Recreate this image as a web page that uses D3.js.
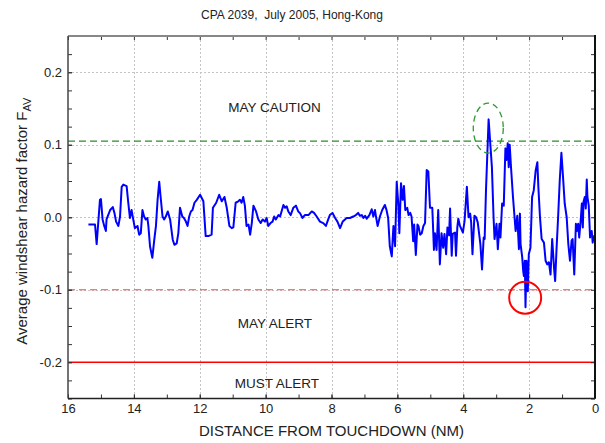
<!DOCTYPE html>
<html>
<head>
<meta charset="utf-8">
<script src="https://cdn.jsdelivr.net/npm/d3@7/dist/d3.min.js"></script>
<style>
  html, body { margin: 0; padding: 0; background: #ffffff; }
  svg { display: block; font-family: "Liberation Sans", Arial, sans-serif; }
</style>
</head>
<body>
<svg id="chart" width="605" height="443"></svg>
<script>
// Distance from touchdown (NM) and averaged windshear hazard factor F_AV
const distanceNM = [
  15.38, 15.18, 15.13, 15.03, 15.0, 14.95, 14.9, 14.85, 14.83, 14.78, 14.72, 14.64, 14.59, 14.54, 14.47, 14.42,
  14.37, 14.32, 14.22, 14.17, 14.12, 14.07, 14.02, 13.97, 13.89, 13.84, 13.79, 13.74, 13.69, 13.64, 13.59, 13.56,
  13.51, 13.44, 13.38, 13.33, 13.28, 13.23, 13.19, 13.13, 13.08, 13.03, 12.97, 12.9, 12.82, 12.77, 12.7, 12.65,
  12.6, 12.53, 12.48, 12.42, 12.37, 12.32, 12.27, 12.22, 12.16, 12.09, 11.99, 11.89, 11.82, 11.74, 11.64, 11.6,
  11.5, 11.41, 11.33, 11.25, 11.18, 11.1, 11.03, 10.98, 10.91, 10.83, 10.78, 10.73, 10.68, 10.63, 10.58, 10.52,
  10.47, 10.42, 10.37, 10.29, 10.22, 10.15, 10.09, 10.02, 9.97, 9.92, 9.85, 9.79, 9.74, 9.69, 9.61, 9.56,
  9.46, 9.41, 9.36, 9.31, 9.24, 9.16, 9.08, 9.01, 8.96, 8.88, 8.81, 8.70, 8.60, 8.53, 8.45, 8.35,
  8.25, 8.17, 8.10, 8.05, 7.97, 7.89, 7.82, 7.74, 7.66, 7.59, 7.54, 7.44, 7.34, 7.26, 7.19, 7.14,
  7.08, 7.03, 6.98, 6.93, 6.85, 6.78, 6.73, 6.68, 6.65, 6.60, 6.53, 6.46, 6.38, 6.33, 6.28, 6.23,
  6.17, 6.12, 6.07, 6.02, 5.97, 5.94, 5.89, 5.84, 5.80, 5.76, 5.70, 5.66, 5.61, 5.57, 5.52, 5.49,
  5.44, 5.39, 5.36, 5.31, 5.26, 5.21, 5.16, 5.11, 5.06, 5.01, 4.94, 4.89, 4.86, 4.81, 4.76, 4.71,
  4.66, 4.61, 4.57, 4.52, 4.48, 4.43, 4.40, 4.35, 4.32, 4.25, 4.22, 4.18, 4.15, 4.10, 4.01, 3.96,
  3.89, 3.84, 3.79, 3.76, 3.72, 3.66, 3.61, 3.56, 3.48, 3.43, 3.38, 3.35, 3.31, 3.23, 3.18, 3.13,
  3.08, 3.05, 2.99, 2.95, 2.90, 2.87, 2.82, 2.77, 2.72, 2.69, 2.65, 2.62, 2.59, 2.55, 2.49, 2.41,
  2.36, 2.31, 2.28, 2.26, 2.21, 2.18, 2.16, 2.13, 2.11, 2.08, 2.04, 2.01, 1.96, 1.91, 1.86, 1.80,
  1.75, 1.72, 1.67, 1.62, 1.55, 1.50, 1.45, 1.40, 1.35, 1.30, 1.24, 1.21, 1.17, 1.12, 1.07, 1.02,
  0.97, 0.92, 0.86, 0.81, 0.76, 0.71, 0.68, 0.63, 0.58, 0.55, 0.51, 0.48, 0.43, 0.40, 0.37, 0.35,
  0.31, 0.28, 0.25, 0.23, 0.19, 0.15, 0.10, 0.07, 0.04
];
const hazardFactor = [
  -0.010, -0.010, -0.037, 0.024, 0.025, -0.003, -0.012, -0.019, -0.003, 0.003, 0.010, 0.014, 0.006, -0.006, -0.012, 0.001,
  0.042, 0.045, 0.043, 0.020, -0.001, 0.010, -0.003, -0.015, -0.012, -0.024, -0.022, 0.010, 0.001, -0.003, -0.001, -0.012,
  -0.040, -0.056, -0.031, -0.012, 0.024, 0.049, 0.029, 0.001, -0.003, 0.001, 0.008, -0.003, -0.031, -0.038, -0.036, -0.022,
  0.013, 0.001, -0.001, -0.006, -0.012, 0.001, 0.008, 0.010, 0.020, 0.024, 0.031, 0.022, -0.026, -0.026, -0.024, 0.013,
  0.020, 0.031, 0.022, 0.028, 0.013, -0.012, -0.015, -0.014, 0.020, 0.022, 0.024, 0.020, 0.028, 0.016, -0.012, -0.010,
  -0.024, -0.008, 0.016, 0.008, -0.003, -0.008, -0.003, -0.006, -0.001, -0.012, -0.008, -0.006, 0.001, -0.003, 0.003, 0.001,
  0.017, 0.013, 0.015, 0.008, 0.003, 0.013, 0.016, 0.008, 0.006, -0.001, 0.003, 0.003, 0.008, 0.006, 0.001, -0.006,
  -0.008, -0.012, -0.003, 0.003, 0.006, -0.001, -0.006, -0.015, -0.006, -0.003, -0.001, -0.001, 0.001, 0.003, 0.006, 0.002,
  0.003, -0.001, 0.002, -0.002, 0.003, 0.011, 0.001, 0.010, 0.001, -0.012, 0.001, 0.010, 0.017, 0.010, -0.001, -0.040,
  -0.054, -0.012, -0.040, 0.049, 0.017, -0.022, 0.047, 0.024, 0.043, 0.010, 0.013, 0.003, 0.006, 0.001, -0.033, -0.010,
  -0.052, -0.010, -0.012, -0.024, -0.022, -0.012, -0.008, 0.065, 0.063, 0.013, 0.013, -0.045, -0.022, -0.045, 0.010, -0.065,
  -0.022, -0.042, -0.023, -0.051, -0.014, -0.025, 0.012, -0.053, -0.023, -0.021, -0.053, -0.014, -0.002, -0.012, -0.021, -0.005,
  0.042, 0.000, 0.005, -0.007, -0.051, 0.002, 0.000, -0.007, -0.037, -0.072, -0.028, -0.030, 0.037, 0.135, 0.102, 0.069,
  0.000, -0.030, -0.009, -0.044, -0.009, -0.028, 0.019, 0.016, 0.095, 0.079, 0.102, 0.069, 0.100, 0.069, 0.028, -0.019,
  0.002, -0.044, 0.005, -0.037, -0.055, -0.074, -0.081, -0.060, -0.124, -0.060, -0.102, -0.051, -0.042, 0.028, 0.037, 0.065,
  0.076, 0.042, 0.000, -0.030, -0.035, -0.060, -0.065, -0.062, -0.079, -0.030, -0.072, -0.088, -0.046, 0.000, 0.051, 0.089,
  0.055, 0.019, 0.000, -0.037, -0.060, -0.032, -0.030, -0.079, -0.009, -0.019, -0.009, -0.028, -0.002, 0.019, -0.014, 0.021,
  0.028, 0.012, 0.052, 0.028, 0.016, -0.028, -0.019, -0.035, -0.025
];

// Axis ticks
const xMajorTicks = [16, 14, 12, 10, 8, 6, 4, 2, 0];
const xMinorTicks = d3.range(0, 16.001, 1);
const yMajorTicks = [-0.2, -0.1, 0.0, 0.1, 0.2];
const yMinorTicks = d3.range(-0.25, 0.2501, 0.025);

// Alert thresholds and zone captions
const cautionLevel = 0.105;
const mayAlertLevel = -0.1;
const mustAlertLevel = -0.2;
const zoneLabels = ["MAY CAUTION", "MAY ALERT", "MUST ALERT"];
const zoneLabelAt = [[9.73, 0.145], [9.72, -0.153], [9.66, -0.2355]];

// Highlighted events: caution peak (ellipse) and alert dip (circle)
const cautionPeak = { nm: 3.24, f: 0.123 };
const alertDip = { nm: 2.12, f: -0.111 };

const svg = d3.select("#chart");
const plotL = 68, plotR = 595, plotT = 36, plotB = 398.5;

const x = d3.scaleLinear().domain([16, 0]).range([plotL, plotR]);
const y = d3.scaleLinear().domain([-0.25, 0.25]).range([plotB, plotT]);

// Title
svg.append("text")
  .attr("x", 292).attr("y", 19)
  .attr("text-anchor", "middle")
  .attr("font-size", 12).attr("fill", "#222")
  .style("white-space", "pre")
  .text("CPA 2039,  July 2005, Hong-Kong");

// Grid lines
const grid = svg.append("g").attr("stroke", "#c4c4c4").attr("stroke-width", 1).attr("stroke-dasharray", "2,2");
grid.selectAll("line.gx").data(xMajorTicks.filter(d => d > 0 && d < 16)).join("line")
  .attr("x1", d => Math.round(x(d)) + 0.5).attr("x2", d => Math.round(x(d)) + 0.5)
  .attr("y1", plotT).attr("y2", plotB);
grid.selectAll("line.gy").data(yMajorTicks).join("line")
  .attr("x1", plotL).attr("x2", plotR)
  .attr("y1", d => Math.round(y(d)) + 0.5).attr("y2", d => Math.round(y(d)) + 0.5);

// Threshold lines
svg.append("line")
  .attr("x1", plotL).attr("x2", plotR)
  .attr("y1", y(cautionLevel)).attr("y2", y(cautionLevel))
  .attr("stroke", "#2e8b2e").attr("stroke-width", 1.2).attr("stroke-dasharray", "7,4");
svg.append("line")
  .attr("x1", plotL).attr("x2", plotR)
  .attr("y1", y(mayAlertLevel)).attr("y2", y(mayAlertLevel))
  .attr("stroke", "#f05050").attr("stroke-width", 1.2).attr("stroke-dasharray", "7,4");
svg.append("line")
  .attr("x1", plotL).attr("x2", plotR)
  .attr("y1", y(mustAlertLevel)).attr("y2", y(mustAlertLevel))
  .attr("stroke", "#ff0000").attr("stroke-width", 1.5);

// Zone captions
svg.selectAll("text.zone").data(zoneLabels).join("text")
  .attr("class", "zone")
  .attr("x", (d, i) => x(zoneLabelAt[i][0]))
  .attr("y", (d, i) => y(zoneLabelAt[i][1]))
  .attr("text-anchor", "middle")
  .attr("font-size", 13.5).attr("fill", "#222")
  .text(d => d);

// Hazard factor trace
const series = distanceNM.map((d, i) => [d, hazardFactor[i]]);
svg.append("path")
  .datum(series)
  .attr("fill", "none")
  .attr("stroke", "#0000ff")
  .attr("stroke-width", 2)
  .attr("stroke-linejoin", "round")
  .attr("d", d3.line().x(d => x(d[0])).y(d => y(d[1])));

// Event markers
svg.append("ellipse")
  .attr("cx", x(cautionPeak.nm)).attr("cy", y(cautionPeak.f))
  .attr("rx", 15).attr("ry", 25)
  .attr("fill", "none").attr("stroke", "#2e9a2e").attr("stroke-width", 1.3)
  .attr("stroke-dasharray", "6,4");
svg.append("circle")
  .attr("cx", x(alertDip.nm)).attr("cy", y(alertDip.f))
  .attr("r", 16)
  .attr("fill", "none").attr("stroke", "#ff0000").attr("stroke-width", 2);

// Axes: labels on bottom/left, inward ticks on all four sides
const fmtY = d => (Math.abs(d) < 1e-9 ? 0 : d).toFixed(1);

const xAxis = svg.append("g").attr("transform", `translate(0,${plotB})`)
  .call(d3.axisBottom(x).tickValues(xMajorTicks).tickSizeInner(-4).tickSizeOuter(0).tickPadding(5).tickFormat(d3.format("d")));
const xMinor = svg.append("g").attr("transform", `translate(0,${plotB})`)
  .call(d3.axisBottom(x).tickValues(xMinorTicks).tickSizeInner(-4).tickSizeOuter(0).tickFormat(""));
const xTop = svg.append("g").attr("transform", `translate(0,${plotT})`)
  .call(d3.axisTop(x).tickValues(xMinorTicks).tickSizeInner(-4).tickSizeOuter(0).tickFormat(""));
const yAxis = svg.append("g").attr("transform", `translate(${plotL},0)`)
  .call(d3.axisLeft(y).tickValues(yMajorTicks).tickSizeInner(-4).tickSizeOuter(0).tickPadding(6).tickFormat(fmtY));
const yMinor = svg.append("g").attr("transform", `translate(${plotL},0)`)
  .call(d3.axisLeft(y).tickValues(yMinorTicks).tickSizeInner(-4).tickSizeOuter(0).tickFormat(""));
const yRight = svg.append("g").attr("transform", `translate(${plotR},0)`)
  .call(d3.axisRight(y).tickValues(yMinorTicks).tickSizeInner(-4).tickSizeOuter(0).tickFormat(""));

[xAxis, xMinor, xTop, yAxis, yMinor, yRight].forEach(g => {
  g.select(".domain").remove();
  g.selectAll(".tick line").attr("stroke", "#333");
  g.selectAll(".tick text").attr("font-size", 13).attr("fill", "#222")
    .attr("font-family", "Liberation Sans, Arial, sans-serif");
});

// Frame
svg.append("line").attr("x1", plotL).attr("x2", plotR).attr("y1", plotT).attr("y2", plotT)
  .attr("stroke", "#888").attr("stroke-width", 2);
svg.append("line").attr("x1", plotL).attr("x2", plotL).attr("y1", plotT).attr("y2", plotB)
  .attr("stroke", "#444").attr("stroke-width", 1.5);
svg.append("line").attr("x1", plotR).attr("x2", plotR).attr("y1", plotT - 1).attr("y2", plotB)
  .attr("stroke", "#111").attr("stroke-width", 2);
svg.append("line").attr("x1", plotL).attr("x2", plotR).attr("y1", plotB).attr("y2", plotB)
  .attr("stroke", "#222").attr("stroke-width", 1.5);

// Axis titles
svg.append("text")
  .attr("x", (plotL + plotR) / 2).attr("y", 436)
  .attr("text-anchor", "middle")
  .attr("font-size", 15).attr("fill", "#222")
  .text("DISTANCE FROM TOUCHDOWN (NM)");

const yTitle = svg.append("text")
  .attr("transform", `translate(27,${(plotT + plotB) / 2 + 4}) rotate(-90)`)
  .attr("text-anchor", "middle")
  .attr("font-size", 15).attr("fill", "#222");
yTitle.append("tspan").text("Average windshear hazard factor F");
yTitle.append("tspan").attr("font-size", 11).attr("dy", 4).text("AV");
</script>
</body>
</html>
